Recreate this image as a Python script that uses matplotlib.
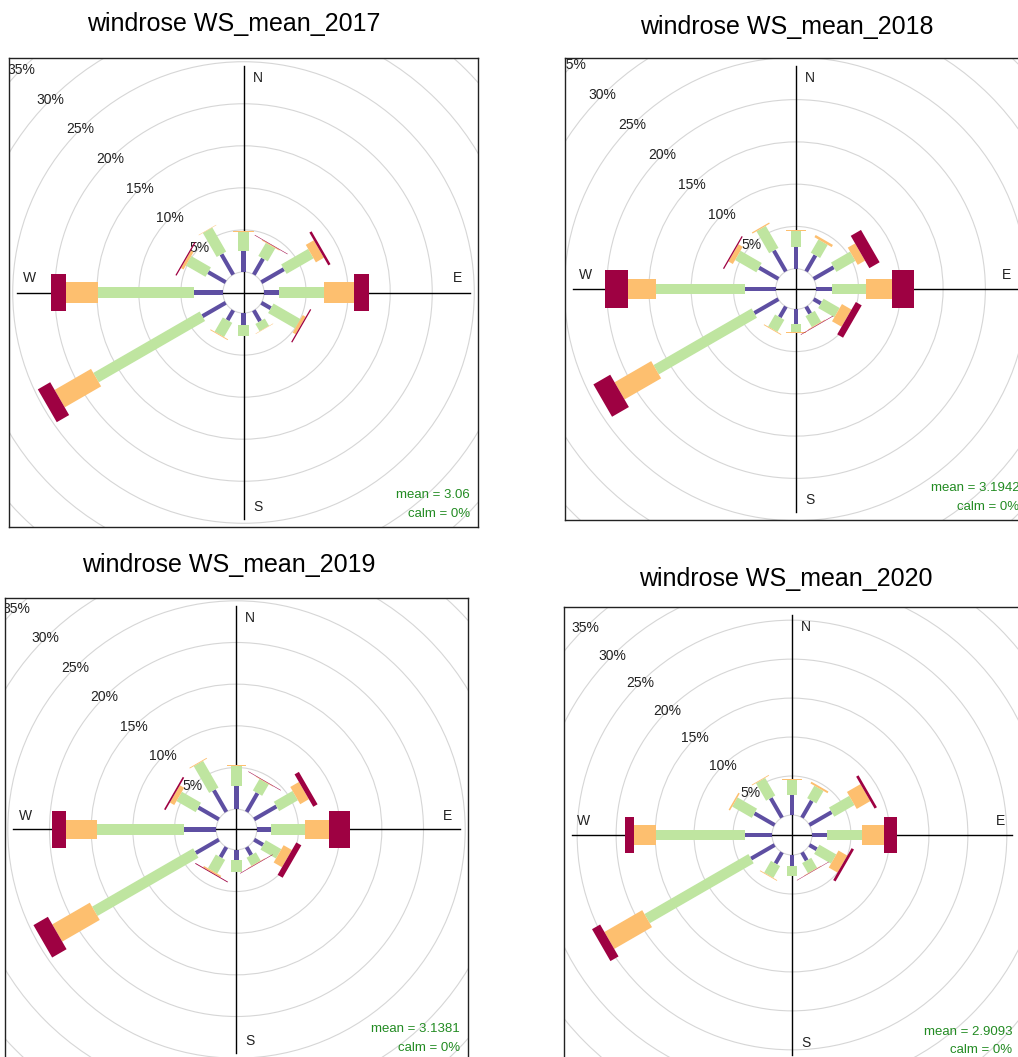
import numpy as np
import matplotlib
matplotlib.use("Agg")
import matplotlib.pyplot as plt
from matplotlib.patches import Polygon, Circle

plt.rcParams["font.family"] = ["Liberation Sans", "DejaVu Sans"]

# wind direction sectors (degrees, direction the wind blows from)
directions = [0, 30, 60, 90, 120, 150, 180, 210, 240, 270, 300, 330]

# frequency (%) per sector for each wind-speed interval, lowest interval first
ws2017_bin1 = [2.5, 2.2, 3.1, 1.75, 1.3, 1.5, 1.4, 1.35, 3.2, 3.4, 2.4, 2.8]
ws2017_bin2 = [2.3, 1.8, 3.7, 5.35, 3.7, 1.0, 1.3, 1.95, 14.6, 11.5, 2.7, 3.3]
ws2017_bin3 = [0.1, 0.1, 1.1, 3.6, 0.4, 0.05, 0.0, 0.1, 5.0, 3.75, 0.35, 0.05]
ws2017_bin4 = [0.0, 0.06, 0.3, 1.8, 0.15, 0.0, 0.0, 0.0, 1.7, 1.8, 0.15, 0.0]

ws2018_bin1 = [2.6, 2.2, 2.75, 1.8, 1.0, 0.95, 1.7, 1.45, 3.3, 3.6, 2.65, 2.85]
ws2018_bin2 = [1.85, 1.8, 2.6, 4.1, 2.2, 1.5, 0.95, 1.65, 13.4, 10.6, 2.9, 3.0]
ws2018_bin3 = [0.15, 0.3, 1.0, 3.1, 1.3, 0.08, 0.1, 0.1, 5.0, 3.3, 0.6, 0.15]
ws2018_bin4 = [0.0, 0.0, 1.4, 2.6, 0.8, 0.06, 0.0, 0.0, 2.3, 2.7, 0.15, 0.0]

ws2019_bin1 = [2.75, 2.6, 3.1, 1.75, 1.25, 1.1, 1.2, 1.4, 3.2, 3.8, 2.85, 3.0]
ws2019_bin2 = [2.4, 1.6, 2.6, 4.05, 2.15, 1.15, 1.4, 1.9, 14.0, 10.5, 2.65, 3.7]
ws2019_bin3 = [0.1, 0.06, 1.2, 2.8, 1.15, 0.06, 0.06, 0.2, 5.2, 3.7, 0.6, 0.1]
ws2019_bin4 = [0.0, 0.06, 0.6, 2.6, 0.7, 0.06, 0.0, 0.1, 2.0, 1.7, 0.2, 0.0]

ws2020_bin1 = [2.6, 2.5, 3.3, 1.95, 1.1, 1.2, 1.4, 1.65, 3.5, 3.5, 3.0, 2.9]
ws2020_bin2 = [1.9, 1.85, 3.0, 4.45, 2.5, 1.5, 1.3, 1.75, 15.4, 11.4, 2.9, 2.6]
ws2020_bin3 = [0.1, 0.25, 2.0, 2.8, 1.3, 0.06, 0.0, 0.1, 5.6, 2.8, 0.2, 0.1]
ws2020_bin4 = [0.0, 0.0, 0.35, 1.7, 0.35, 0.05, 0.0, 0.0, 1.2, 1.2, 0.0, 0.0]

titles = ["windrose WS_mean_2017", "windrose WS_mean_2018",
          "windrose WS_mean_2019", "windrose WS_mean_2020"]
mean_ws = ["3.06", "3.1942", "3.1381", "2.9093"]
calm_pct = ["0", "0", "0", "0"]

panels = [
    [ws2017_bin1, ws2017_bin2, ws2017_bin3, ws2017_bin4],
    [ws2018_bin1, ws2018_bin2, ws2018_bin3, ws2018_bin4],
    [ws2019_bin1, ws2019_bin2, ws2019_bin3, ws2019_bin4],
    [ws2020_bin1, ws2020_bin2, ws2020_bin3, ws2020_bin4],
]

colors = plt.get_cmap("Spectral_r")(np.linspace(0, 1, 4))
paddle_frac = np.array([0.02, 0.053, 0.098, 0.184])

W, H = 1018, 1057
fig = plt.figure(figsize=(W / 100, H / 100), dpi=100)

# panel boxes in pixels: left, top, size ; title centre in pixels
boxes = [(9, 58, 469), (565, 58, 462), (5, 598, 463), (564, 607, 456)]
title_pos = [(234, 24), (787, 27), (229, 565), (786, 579)]


def draw_rose(ax, bins, mean_txt, calm_txt):
    freqs = np.array(bins, dtype=float)
    totals = freqs.sum(axis=0)
    max_freq = totals.max()
    off = 0.1 * max_freq
    R = max_freq + off
    lim = 1.035 * R
    ax.set_xlim(-lim, lim)
    ax.set_ylim(-lim, lim)
    ax.set_xticks([])
    ax.set_yticks([])
    for s in ax.spines.values():
        s.set_color("#222222")
        s.set_linewidth(1.0)

    # grid rings, starting at the calm-circle offset
    for pct in range(0, 45, 5):
        ax.add_patch(Circle((0, 0), off + pct, fill=False, ec="#d6d6d6",
                            lw=0.8, zorder=1))
    a = np.deg2rad(315)
    for pct in range(5, 40, 5):
        r = off + pct
        ax.text(r * np.sin(a), r * np.cos(a), f"{pct}%", ha="center",
                va="center", fontsize=10, color="#222222", clip_on=True,
                zorder=2)

    # compass cross
    ax.plot([-R, R], [0, 0], color="black", lw=1.0, zorder=2)
    ax.plot([0, 0], [-R, R], color="black", lw=1.0, zorder=2)
    k, p = 0.945, 0.062
    for lab, x, y in [("N", p * R, k * R), ("S", p * R, -k * R),
                      ("E", k * R, p * R), ("W", -k * R, p * R)]:
        ax.text(x, y, lab, ha="center", va="center", fontsize=10,
                color="#222222", zorder=2)

    # stacked paddles
    widths = paddle_frac * max_freq
    cum = np.vstack([np.zeros(len(directions)), np.cumsum(freqs, axis=0)])
    for i in range(freqs.shape[0]):
        hw = widths[i] / 2
        for j, wd in enumerate(directions):
            r1 = off + cum[i, j]
            r2 = off + cum[i + 1, j]
            if r2 - r1 <= 0:
                continue
            th = np.deg2rad(wd)
            u = np.array([np.sin(th), np.cos(th)])
            v = np.array([np.cos(th), -np.sin(th)])
            pts = [r1 * u - hw * v, r2 * u - hw * v,
                   r2 * u + hw * v, r1 * u + hw * v]
            ax.add_patch(Polygon(pts, closed=True, fc=colors[i], ec="none",
                                 zorder=3 + i))

    ax.text(0.983, 0.069, f"mean = {mean_txt}", transform=ax.transAxes,
            ha="right", va="center", fontsize=9.5, color="forestgreen")
    ax.text(0.983, 0.028, f"calm = {calm_txt}%", transform=ax.transAxes,
            ha="right", va="center", fontsize=9.5, color="forestgreen")


for idx, (bins, (l, t, s)) in enumerate(zip(panels, boxes)):
    ax = fig.add_axes([l / W, 1 - (t + s) / H, s / W, s / H])
    draw_rose(ax, bins, mean_ws[idx], calm_pct[idx])
    tx, ty = title_pos[idx]
    fig.text(tx / W, 1 - ty / H, titles[idx], ha="center", va="center",
             fontsize=18, color="black")

fig.savefig("out.png", dpi=100)
